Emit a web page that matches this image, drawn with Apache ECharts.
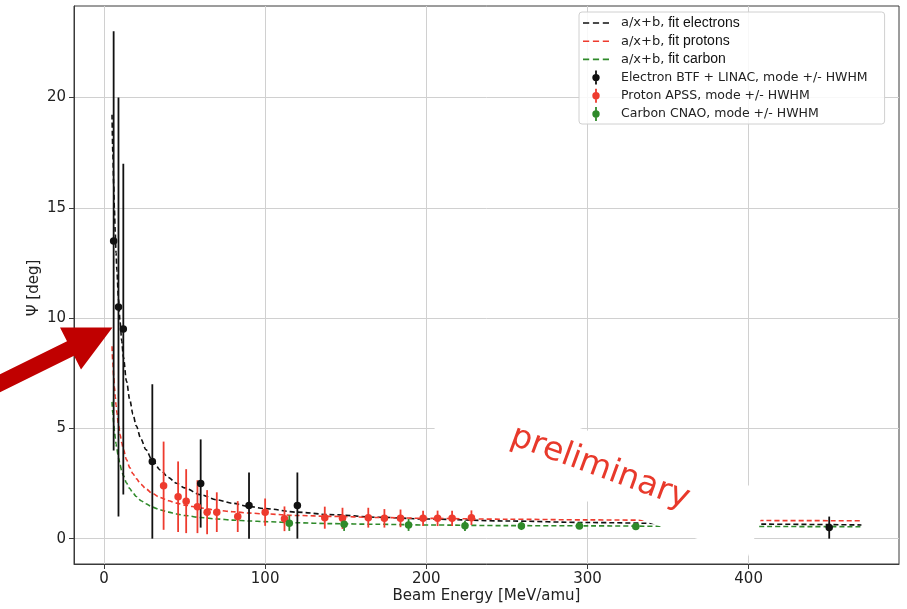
<!DOCTYPE html>
<html>
<head>
<meta charset="utf-8">
<script src="https://cdn.jsdelivr.net/npm/echarts@6/dist/echarts.min.js"></script>
<style>
  html, body { margin: 0; padding: 0; background: #ffffff; }
  #chart { width: 907px; height: 609px; }
</style>
</head>
<body>
<div id="chart"></div>
<script>
// Measured points: mode of the angular distribution, error = HWHM
const electronEnergy = [6, 9, 12, 30, 60, 90, 120, 450];
const electronPsi    = [13.5, 10.5, 9.5, 3.5, 2.5, 1.5, 1.5, 0.5];
const electronHwhm   = [9.5, 9.5, 7.5, 3.5, 2.0, 1.5, 1.5, 0.5];

const protonEnergy = [37, 46, 51, 58, 64, 70, 83, 100, 112, 137, 148, 164, 174, 184, 198, 207, 216, 228];
const protonPsi    = [2.4, 1.9, 1.7, 1.45, 1.2, 1.2, 1.0, 1.2, 0.9, 0.95, 0.92, 0.95, 0.92, 0.92, 0.92, 0.92, 0.92, 0.95];
const protonHwhm   = [2.0, 1.6, 1.45, 1.2, 1.0, 0.9, 0.7, 0.62, 0.56, 0.5, 0.48, 0.45, 0.42, 0.4, 0.35, 0.35, 0.35, 0.33];

const carbonEnergy = [115, 149, 189, 224, 259, 295, 330];
const carbonPsi    = [0.7, 0.65, 0.62, 0.58, 0.57, 0.57, 0.55];
const carbonHwhm   = [0.35, 0.3, 0.27, 0.23, 0.18, 0.12, 0.08];

// a/x+b fit curves, sampled on a common energy grid
const fitEnergy    = [5, 5.5, 6, 6.5, 7, 7.5, 8, 9, 10, 11, 12, 14, 16, 18, 20, 23, 26, 30, 35, 40, 45, 50, 60, 70, 80, 90, 100, 120, 140, 170, 200, 250, 300, 350, 400, 470];
const fitElectrons = [19.22, 17.51, 16.09, 14.88, 13.85, 12.95, 12.17, 10.86, 9.82, 8.97, 8.25, 7.13, 6.30, 5.64, 5.12, 4.51, 4.04, 3.55, 3.11, 2.77, 2.51, 2.30, 1.99, 1.76, 1.60, 1.46, 1.36, 1.20, 1.09, 0.97, 0.89, 0.80, 0.73, 0.69, 0.66, 0.62];
const fitProtons   = [8.72, 7.99, 7.39, 6.87, 6.43, 6.05, 5.72, 5.16, 4.72, 4.36, 4.05, 3.58, 3.22, 2.94, 2.72, 2.46, 2.26, 2.05, 1.86, 1.72, 1.61, 1.52, 1.39, 1.29, 1.22, 1.16, 1.12, 1.05, 1.01, 0.96, 0.92, 0.88, 0.85, 0.83, 0.82, 0.81];
const fitCarbon    = [6.20, 5.68, 5.25, 4.88, 4.57, 4.29, 4.06, 3.66, 3.34, 3.08, 2.86, 2.52, 2.27, 2.07, 1.91, 1.72, 1.58, 1.43, 1.30, 1.20, 1.12, 1.05, 0.96, 0.89, 0.84, 0.80, 0.77, 0.72, 0.68, 0.65, 0.62, 0.59, 0.58, 0.56, 0.55, 0.54];

const xTicks = [0, 100, 200, 300, 400];
const yTicks = [0, 5, 10, 15, 20];

const fitNames = ['a/x+b, fit electrons', 'a/x+b, fit protons', 'a/x+b, fit carbon'];
const pointNames = ['Electron BTF + LINAC, mode +/- HWHM', 'Proton APSS, mode +/- HWHM', 'Carbon CNAO, mode +/- HWHM'];

const BLACK = '#111111';
const RED = '#ee3b2e';
const GREEN = '#2f8a2a';

const pairs = (xs, ys) => xs.map((x, i) => [x, ys[i]]);
const bars = (xs, ys, es) => xs.map((x, i) => [x, ys[i] - es[i], ys[i] + es[i]]);

function fitSeries(name, ys, color) {
  return {
    type: 'line', name: name, data: pairs(fitEnergy, ys),
    symbol: 'none', smooth: 0.3, smoothMonotone: 'x', z: 2,
    lineStyle: { color: color, width: 1.6, type: [5, 3] },
    itemStyle: { color: color }, silent: true
  };
}

function barSeries(id, xs, ys, es, color) {
  return {
    type: 'custom', name: id, data: bars(xs, ys, es), z: 3, silent: true,
    encode: { x: 0, y: [1, 2] },
    renderItem: function (params, api) {
      const lo = api.coord([api.value(0), api.value(1)]);
      const hi = api.coord([api.value(0), api.value(2)]);
      return {
        type: 'line',
        shape: { x1: lo[0], y1: lo[1], x2: hi[0], y2: hi[1] },
        style: { stroke: color, lineWidth: 1.8 }
      };
    }
  };
}

function pointSeries(name, xs, ys, color) {
  return {
    type: 'scatter', name: name, data: pairs(xs, ys), z: 4, silent: true,
    symbol: 'circle', symbolSize: 7.5, symbolKeepAspect: true,
    itemStyle: { color: color, opacity: 1 }
  };
}

// legend handles: three short dashes, and a dot with a vertical error bar
const dashIcon = 'path://M0,0M26,14M0,6.2H6.2V7.8H0ZM9.9,6.2H16.1V7.8H9.9ZM19.8,6.2H26V7.8H19.8Z';
const markerIcon = 'path://M0,0M26,14M12.1,0H13.9V14H12.1ZM9.3,7A3.7,3.7 0 1,1 16.7,7A3.7,3.7 0 1,1 9.3,7Z';

const chart = echarts.init(document.getElementById('chart'), null, { renderer: 'canvas' });

const axisColor = '#3a3a3a';
const gridColor = '#d0d0d0';
const labelFont = { fontFamily: 'DejaVu Sans', fontSize: 15, color: '#222222' };

chart.setOption({
  animation: false,
  backgroundColor: '#ffffff',
  grid: {
    left: 74, right: 8, top: 6, bottom: 45,
    outerBoundsMode: 'none', containLabel: false,
    show: true, borderColor: axisColor, borderWidth: 1, backgroundColor: 'transparent'
  },
  xAxis: {
    type: 'value', min: -18.6, max: 493.3,
    name: 'Beam Energy [MeV/amu]', nameLocation: 'middle', nameGap: 25, nameMoveOverlap: false,
    nameTextStyle: labelFont,
    axisLine: { show: true, onZero: false, lineStyle: { color: axisColor, width: 1 } },
    axisTick: { show: true, length: 5, customValues: xTicks, lineStyle: { color: axisColor, width: 1 } },
    axisLabel: Object.assign({ customValues: xTicks, margin: 8 }, labelFont),
    splitLine: { show: true, lineStyle: { color: gridColor, width: 1 } }
  },
  yAxis: {
    type: 'value', min: -1.15, max: 24.15,
    name: 'Ψ [deg]', nameLocation: 'middle', nameGap: 32, nameMoveOverlap: false,
    nameTextStyle: Object.assign({ padding: [0, 6, 0, 0] }, labelFont),
    axisLine: { show: true, onZero: false, lineStyle: { color: axisColor, width: 1 } },
    axisTick: { show: true, length: 5, customValues: yTicks, lineStyle: { color: axisColor, width: 1 } },
    axisLabel: Object.assign({ customValues: yTicks, margin: 8 }, labelFont),
    splitLine: { show: true, lineStyle: { color: gridColor, width: 1 } }
  },
  legend: {
    orient: 'vertical', left: 579, top: 12,
    itemWidth: 26, itemHeight: 14, itemGap: 4.2,
    padding: [4, 17, 3, 4],
    borderColor: '#d0d0d0', borderWidth: 1, borderRadius: 3,
    backgroundColor: 'rgba(255,255,255,0.85)',
    selectedMode: false,
    data: fitNames.map(n => ({ name: n, icon: dashIcon })).concat(pointNames.map(n => ({ name: n, icon: markerIcon }))),
    formatter: function (name) {
      if (name.indexOf('a/x+b,') === 0) {
        return '{m|a/x+b,}{h|' + name.slice(6) + '}';
      }
      return '{d|' + name + '}';
    },
    textStyle: {
      rich: {
        m: { fontFamily: 'DejaVu Sans', fontSize: 13, color: '#222', padding: [0, 0, 0, 7], lineHeight: 14 },
        h: { fontFamily: 'Liberation Sans', fontSize: 14, color: '#111', lineHeight: 14 },
        d: { fontFamily: 'DejaVu Sans', fontSize: 12.5, color: '#222', padding: [0, 0, 0, 7], lineHeight: 14 }
      }
    }
  },
  graphic: [
    {
      // white backing of the "preliminary" stamp
      type: 'rect', x: 599, y: 470, rotation: -0.328, z: 10, silent: true,
      shape: { x: -169, y: -33.5, width: 338, height: 67 },
      style: { fill: '#ffffff' }
    },
    {
      type: 'text', x: 600, y: 468, rotation: -0.35, z: 11, silent: true,
      style: { text: 'preliminary', fill: '#e8392b', font: '33px "DejaVu Sans"', textAlign: 'center', textVerticalAlign: 'middle' }
    },
    {
      // pointer arrow on the low-energy electron points
      type: 'polygon', z: 20, silent: true,
      shape: { points: [[112.5, 327.5], [81, 369.5], [74, 355.7], [-1.4, 392.9], [-8.4, 378.5], [67, 341.3], [60, 327.5]] },
      style: { fill: '#c00000' }
    }
  ],
  series: [
    fitSeries(fitNames[0], fitElectrons, BLACK),
    fitSeries(fitNames[1], fitProtons, RED),
    fitSeries(fitNames[2], fitCarbon, GREEN),
    barSeries('electronBars', electronEnergy, electronPsi, electronHwhm, BLACK),
    barSeries('protonBars', protonEnergy, protonPsi, protonHwhm, RED),
    barSeries('carbonBars', carbonEnergy, carbonPsi, carbonHwhm, GREEN),
    pointSeries(pointNames[0], electronEnergy, electronPsi, BLACK),
    pointSeries(pointNames[1], protonEnergy, protonPsi, RED),
    pointSeries(pointNames[2], carbonEnergy, carbonPsi, GREEN)
  ]
});
</script>
</body>
</html>
